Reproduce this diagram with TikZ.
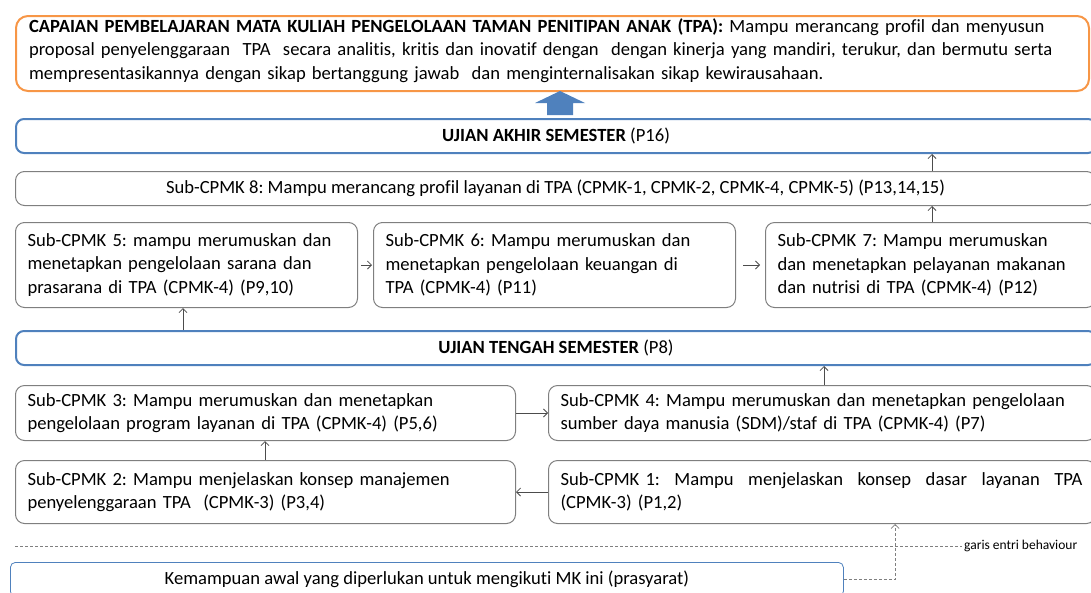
\documentclass[tikz,border=0pt]{standalone}
\usepackage{fontspec}
\setmainfont{Carlito}[Ligatures=NoCommon]
\usetikzlibrary{positioning,arrows.meta}

\definecolor{cplorange}{HTML}{F79646}
\definecolor{ujianblue}{HTML}{4F81BD}
\definecolor{boxgray}{HTML}{7F7F7F}

\tikzset{
  subbox/.style={draw=boxgray, line width=1pt, rounded corners=9pt, anchor=north west,
    inner xsep=12pt, inner ysep=0pt, align=left},
  ujian/.style={draw=ujianblue, line width=2pt, rounded corners=8pt, anchor=north west,
    minimum height=34pt, inner sep=0pt},
  link/.style={-{Straight Barb[length=4pt,width=8pt]}, line width=0.8pt, black!70},
  entri/.style={dash pattern=on 3pt off 2pt, line width=0.7pt, boxgray},
}

\begin{document}
\frenchspacing
\begin{tikzpicture}[x=1pt,y=-1pt,font=\fontsize{18.6}{23.5}\selectfont]

\useasboundingbox (0,0) rectangle (1091,592);

% Capaian pembelajaran
\node[draw=cplorange, line width=2pt, rounded corners=12pt, anchor=north west,
  inner xsep=13pt, inner ysep=0pt, minimum height=75pt, text width=1047pt, align=left]
  (cpl) at (15,15)
  {\textbf{CAPAIAN PEMBELAJARAN MATA KULIAH PENGELOLAAN TAMAN PENITIPAN ANAK (TPA):} Mampu merancang profil dan menyusun\\
   proposal penyelenggaraan\ \ TPA\ \ secara analitis, kritis dan inovatif dengan\ \ dengan kinerja yang mandiri, terukur, dan bermutu serta\\
   mempresentasikannya dengan sikap bertanggung jawab\ \ dan menginternalisakan sikap kewirausahaan.\\[-14pt]\mbox{}};

% Ujian
\node[ujian, minimum width=1080pt] (uas) at (15,118)
  {\textbf{UJIAN AKHIR SEMESTER} (P16)};
\node[ujian, minimum width=1080pt] (uts) at (15,330)
  {\textbf{UJIAN TENGAH SEMESTER} (P8)};

% Sub-CPMK
\node[subbox, minimum height=34pt, minimum width=1080pt, align=center] (b8) at (15,171)
  {Sub-CPMK 8: Mampu merancang profil layanan di TPA (CPMK-1, CPMK-2, CPMK-4, CPMK-5) (P13,14,15)};

\node[subbox, minimum height=85pt, text width=318pt] (b5) at (15,222)
  {Sub-CPMK 5: mampu merumuskan dan\\ menetapkan pengelolaan sarana dan\\ prasarana di TPA (CPMK-4) (P9,10)};
\node[subbox, minimum height=85pt, text width=338pt] (b6) at (373,222)
  {Sub-CPMK 6: Mampu merumuskan dan\\ menetapkan pengelolaan keuangan di\\ TPA (CPMK-4) (P11)};
\node[subbox, minimum height=85pt, text width=306pt] (b7) at (765,222)
  {Sub-CPMK 7: Mampu merumuskan\\ dan menetapkan pelayanan makanan\\ dan nutrisi di TPA (CPMK-4) (P12)};

\node[subbox, minimum height=55pt, text width=476pt] (b3) at (15,385)
  {Sub-CPMK 3: Mampu merumuskan dan menetapkan\\ pengelolaan program layanan di TPA (CPMK-4) (P5,6)};
\node[subbox, minimum height=55pt, text width=523pt] (b4) at (548,385)
  {Sub-CPMK 4: Mampu merumuskan dan menetapkan pengelolaan\\ sumber daya manusia (SDM)/staf di TPA (CPMK-4) (P7)};

\node[subbox, minimum height=63pt, text width=476pt] (b2) at (15,460)
  {Sub-CPMK 2: Mampu menjelaskan konsep manajemen\\ penyelenggaraan TPA\ \ (CPMK-3) (P3,4)};
\node[subbox, minimum height=63pt, text width=523pt] (b1) at (548,460)
  {\hbox to 522pt{Sub-CPMK\ 1:\hfill Mampu\hfill menjelaskan\hfill konsep\hfill dasar\hfill layanan\hfill TPA}\\ (CPMK-3) (P1,2)};

% Prasyarat
\node[draw=ujianblue, line width=0.8pt, rounded corners=5pt, anchor=north west,
  minimum width=833pt, minimum height=34pt, inner sep=0pt] (pre) at (10,562)
  {Kemampuan awal yang diperlukan untuk mengikuti MK ini (prasyarat)};

% Garis entri behaviour
\coordinate (gstart) at (15,546);
\node[anchor=west, font=\fontsize{13.5}{15}\selectfont, inner sep=2pt] (garis) at (962,546)
  {garis entri behaviour};
\draw[entri] (gstart) -- (garis.west);

% Arrow positions
\coordinate (xa) at (932,0);
\coordinate (xb) at (183,0);
\coordinate (xc) at (824,0);
\coordinate (xd) at (265,0);
\coordinate (xe) at (895,0);
\coordinate (xf) at (560,0);

% Block arrow
\fill[ujianblue] (cpl.south -| xf) ++(0,-1) -- ++(25,12) -- ++(-12,0) -- ++(0,12)
  -- ++(-26,0) -- ++(0,-12) -- ++(-12,0) -- cycle;

% Links
\draw[link] (b8.north -| xa) -- (uas.south -| xa);
\draw[link] (b7.north -| xa) -- (b8.south -| xa);
\draw[link, shorten <=3pt, shorten >=1pt] (b5.east) -- (b6.west);
\draw[link, shorten <=7pt, shorten >=5pt] (b6.east) -- (b7.west);
\draw[link] (uts.north -| xb) -- (b5.south -| xb);
\draw[link] (b4.north -| xc) -- (uts.south -| xc);
\draw[link] (b3.east) -- (b4.west);
\draw[link] (b2.north -| xd) -- (b3.south -| xd);
\draw[link] (b1.west) -- (b2.east);
\draw[entri, -{Straight Barb[length=4pt,width=8pt]}] (pre.east) -| (b1.south -| xe);

\end{tikzpicture}
\end{document}
